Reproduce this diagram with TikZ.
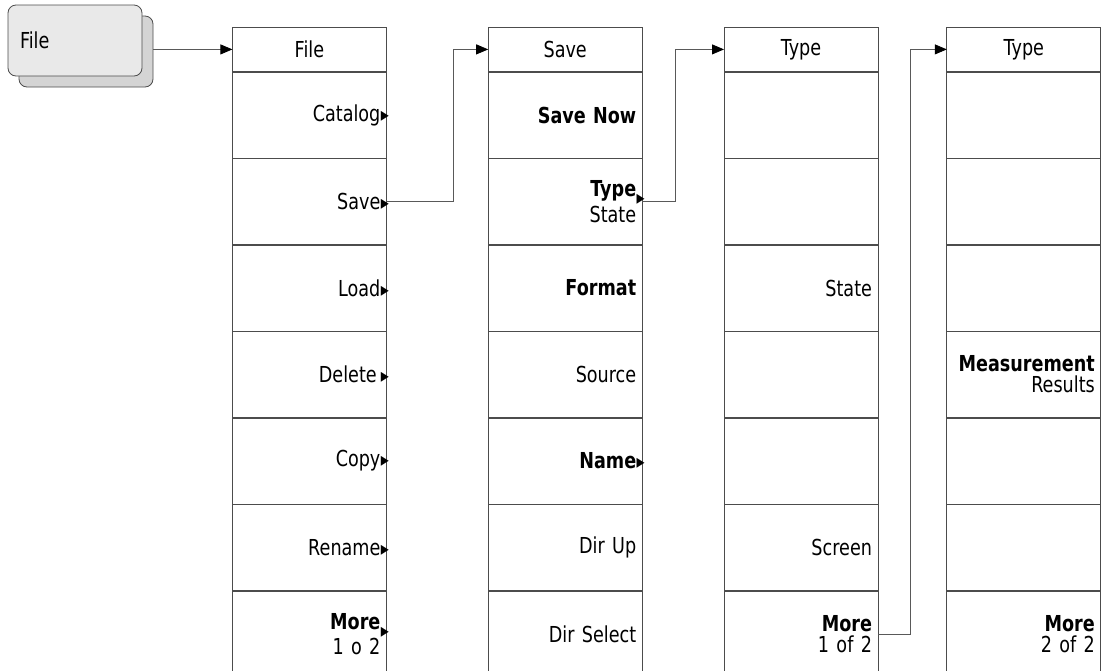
\documentclass[tikz,border=0pt]{standalone}
\usepackage{fontspec}
\setmainfont{DejaVu Sans}[FakeStretch=0.8]
\usepackage{tikz}
\usetikzlibrary{arrows.meta,shadows}
\newcommand{\menufont}{\fontsize{22}{21}\selectfont}
\newcommand{\subm}{\rlap{\kern0.5pt\fontsize{20}{20}\selectfont ▸}}
\newcommand{\sublow}{\rlap{\kern0.5pt\raisebox{-8pt}{\fontsize{20}{20}\selectfont ▸}}}
\tikzstyle{softkey}=[rectangle,rounded corners=8pt,draw=black!70,line width=0.8pt,
fill=gray!17,minimum width=134pt,minimum height=71pt,text width=110pt,inner xsep=12pt,
align=left,font=\menufont,
copy shadow={shadow xshift=11pt,shadow yshift=-11pt,fill=gray!34,draw=black!70}]
\tikzstyle{menutitle}=[rectangle,draw=black!70,line width=0.8pt,outer sep=0pt,
minimum height=44pt,text width=142pt,inner xsep=6pt,align=center,font=\menufont]
\tikzstyle{menukey}=[rectangle,draw=black!70,line width=0.8pt,outer sep=0pt,
minimum height=85.71pt,text width=142pt,inner xsep=6pt,align=right,font=\menufont]
\tikzstyle{wire}=[draw=black!65,line width=0.8pt,->]

\begin{document}
\begin{tikzpicture}[x=1pt,y=-1pt,>={Triangle[length=12pt,width=10pt,color=black]},
    ampersand replacement=\&]
    \useasboundingbox (0,0) rectangle (1105,670);
    % the front panel key
    \node (key) [softkey] at (75,40.5) {File};
    \matrix (menus) [anchor=north west,inner sep=0pt,outer sep=0pt,
      row sep=0pt,column sep=0pt] at (232,27) {
      % titles
      \node (file-0) [menutitle] {File}; \&[101pt]
      \node (save-0) [menutitle] {Save}; \&[81pt]
      \node (type-0) [menutitle] {Type}; \&[68pt]
      \node (typetwo-0) [menutitle] {Type};
      \\
      \node (file-1) [menukey] {Catalog\subm}; \&
      \node (save-1) [menukey] {\bfseries Save Now}; \&
      \node (type-1) [menukey] {}; \&
      \node (typetwo-1) [menukey] {};
      \\
      \node (file-2) [menukey] {Save\subm}; \&
      \node (save-2) [menukey] {\textbf{Type}\sublow\\State}; \&
      \node (type-2) [menukey] {}; \&
      \node (typetwo-2) [menukey] {};
      \\
      \node (file-3) [menukey] {Load\subm}; \&
      \node (save-3) [menukey] {\bfseries Format}; \&
      \node (type-3) [menukey] {State}; \&
      \node (typetwo-3) [menukey] {};
      \\
      \node (file-4) [menukey] {Delete\,\subm}; \&
      \node (save-4) [menukey] {Source}; \&
      \node (type-4) [menukey] {}; \&
      \node (typetwo-4) [menukey] {\textbf{Measurement}\\Results};
      \\
      \node (file-5) [menukey] {Copy\subm}; \&
      \node (save-5) [menukey] {\textbf{Name}\subm}; \&
      \node (type-5) [menukey] {}; \&
      \node (typetwo-5) [menukey] {};
      \\
      \node (file-6) [menukey] {Rename\subm}; \&
      \node (save-6) [menukey] {Dir Up}; \&
      \node (type-6) [menukey] {Screen}; \&
      \node (typetwo-6) [menukey] {};
      \\
      \node (file-7) [menukey] {\textbf{More}\sublow\\1 o 2}; \&
      \node (save-7) [menukey] {Dir Select}; \&
      \node (type-7) [menukey] {\textbf{More}\\1 of 2}; \&
      \node (typetwo-7) [menukey] {\textbf{More}\\2 of 2};
      \\
    };
    % menu links
    \draw[wire] ([xshift=11pt]key.east |- file-0.west) -- (file-0.west);
    \draw[wire] (file-2.east) -- ++(67,0) |- (save-0.west);
    \draw[wire] (save-2.east) -- ++(33,0) |- (type-0.west);
    \draw[wire] (type-7.east) -- ++(32,0) |- (typetwo-0.west);
  \end{tikzpicture}
\end{document}
